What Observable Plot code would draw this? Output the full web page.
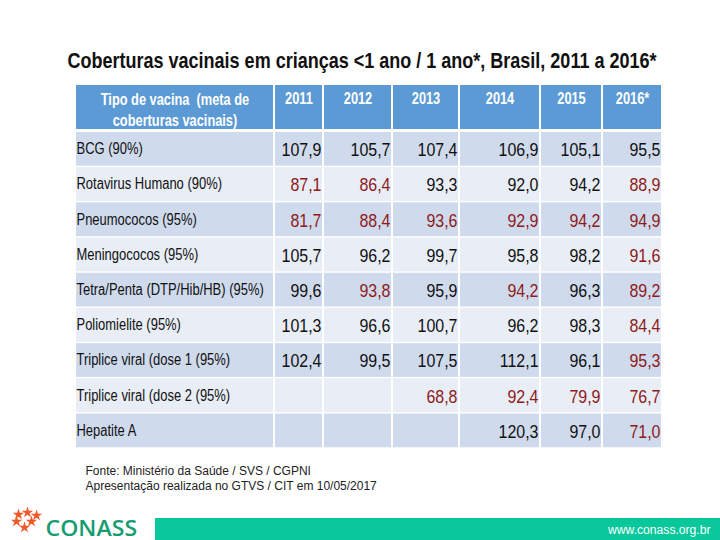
<!DOCTYPE html>
<html>
<head>
<meta charset="utf-8">
<script src="https://cdn.jsdelivr.net/npm/d3@7"></script>
<script src="https://cdn.jsdelivr.net/npm/@observablehq/plot@0.6"></script>
<style>
  html, body { margin: 0; padding: 0; background: #fff; }
  #chart svg { display: block; }
</style>
</head>
<body>
<div id="chart"></div>
<script>
// ---------- data ----------
const title = "Coberturas vacinais em crianças <1 ano / 1 ano*, Brasil, 2011 a 2016*";
const headerLabel = "Tipo de vacina  (meta de\ncoberturas vacinais)";
const years = ["2011", "2012", "2013", "2014", "2015", "2016*"];
const vaccines = [
  "BCG (90%)",
  "Rotavirus Humano (90%)",
  "Pneumococos (95%)",
  "Meningococos (95%)",
  "Tetra/Penta (DTP/Hib/HB) (95%)",
  "Poliomielite (95%)",
  "Triplice viral (dose 1 (95%)",
  "Triplice viral (dose 2 (95%)",
  "Hepatite A"
];
const bcg          = [107.9, 105.7, 107.4, 106.9, 105.1, 95.5];
const rotavirus    = [87.1, 86.4, 93.3, 92.0, 94.2, 88.9];
const pneumococos  = [81.7, 88.4, 93.6, 92.9, 94.2, 94.9];
const meningococos = [105.7, 96.2, 99.7, 95.8, 98.2, 91.6];
const tetraPenta   = [99.6, 93.8, 95.9, 94.2, 96.3, 89.2];
const poliomielite = [101.3, 96.6, 100.7, 96.2, 98.3, 84.4];
const tripliceD1   = [102.4, 99.5, 107.5, 112.1, 96.1, 95.3];
const tripliceD2   = [null, null, 68.8, 92.4, 79.9, 76.7];
const hepatiteA    = [null, null, null, 120.3, 97.0, 71.0];
// cells highlighted in red in the source (below target)
const flagged = [
  "Rotavirus Humano (90%)|2011", "Rotavirus Humano (90%)|2012", "Rotavirus Humano (90%)|2016*",
  "Pneumococos (95%)|2011", "Pneumococos (95%)|2012", "Pneumococos (95%)|2013",
  "Pneumococos (95%)|2014", "Pneumococos (95%)|2015", "Pneumococos (95%)|2016*",
  "Meningococos (95%)|2016*",
  "Tetra/Penta (DTP/Hib/HB) (95%)|2012", "Tetra/Penta (DTP/Hib/HB) (95%)|2014", "Tetra/Penta (DTP/Hib/HB) (95%)|2016*",
  "Poliomielite (95%)|2016*",
  "Triplice viral (dose 1 (95%)|2016*",
  "Triplice viral (dose 2 (95%)|2013", "Triplice viral (dose 2 (95%)|2014",
  "Triplice viral (dose 2 (95%)|2015", "Triplice viral (dose 2 (95%)|2016*",
  "Hepatite A|2016*"
];
const footerLines = [
  "Fonte: Ministério da Saúde / SVS / CGPNI",
  "Apresentação realizada no GTVS / CIT em 10/05/2017"
];
const brandName = "CONASS";
const siteUrl = "www.conass.org.br";

// ---------- table build ----------
const series = [bcg, rotavirus, pneumococos, meningococos, tetraPenta, poliomielite, tripliceD1, tripliceD2, hepatiteA];
const rows = [];
vaccines.forEach((v, i) => {
  years.forEach((y, j) => {
    rows.push({vaccine: v, row: i, year: y, col: j + 1, value: series[i][j],
               flag: flagged.includes(v + "|" + y)});
  });
});

// ---------- layout ----------
const colEdges = [75, 274, 323, 392, 459, 540, 602, 662];
const headTop = 85, headBottom = 130, bodyTop = 131, rowH = 35.2;
const rowY1 = i => bodyTop + i * rowH;
const rowY2 = i => bodyTop + (i + 1) * rowH;
const rowMid = i => bodyTop + (i + 0.5) * rowH;

const bodyCells = [];
vaccines.forEach((v, i) => {
  for (let c = 0; c < colEdges.length - 1; c++) bodyCells.push({row: i, col: c});
});
const headCells = d3.range(colEdges.length - 1).map(c => ({col: c}));

const fmt = v => v == null ? "" : v.toFixed(1).replace(".", ",");
const sans = "'Liberation Sans', Arial, sans-serif";

const stars = [
  {x: 18, y: 514}, {x: 27, y: 512}, {x: 36, y: 515},
  {x: 16, y: 521}, {x: 31, y: 521},
  {x: 24, y: 527}
];

const chart = Plot.plot({
  width: 720,
  height: 540,
  margin: 0,
  x: {type: "linear", domain: [0, 720], range: [0, 720], axis: null},
  y: {type: "linear", domain: [0, 540], range: [0, 540], axis: null},
  color: {type: "identity"},
  style: {background: "#ffffff"},
  marks: [
    // 0 title
    Plot.text([title], {x: 361.5, y: 60, text: d => d, fontFamily: sans, fontWeight: "bold",
      fontSize: 22, fill: "#111"}),
    // header cells
    Plot.rect(headCells, {x1: d => colEdges[d.col], x2: d => colEdges[d.col + 1],
      y1: headTop, y2: headBottom - 1, fill: "#5b9ad4", insetLeft: 1, insetRight: 1}),
    // body cells
    Plot.rect(bodyCells, {x1: d => colEdges[d.col], x2: d => colEdges[d.col + 1],
      y1: d => rowY1(d.row), y2: d => rowY2(d.row),
      fill: d => d.row % 2 === 0 ? "#cfdaec" : "#e8edf6",
      insetLeft: 1, insetRight: 1, insetTop: 1, insetBottom: 0.5}),
    // 1 header label
    Plot.text([headerLabel], {x: (colEdges[0] + colEdges[1]) / 2, y: 108, text: d => d,
      fontFamily: sans, fontWeight: "bold", fontSize: 16, lineHeight: 1.3, fill: "#fff"}),
    // 2 years
    Plot.text(years, {x: (d, j) => (colEdges[j + 1] + colEdges[j + 2]) / 2, y: 98, text: d => d,
      fontFamily: sans, fontWeight: "bold", fontSize: 16, fill: "#fff"}),
    // 3 row labels
    Plot.text(vaccines, {x: colEdges[0] + 1, y: (d, i) => rowMid(i), text: d => d,
      textAnchor: "start", fontFamily: sans, fontSize: 16, fill: "#111"}),
    // 4 values
    Plot.text(rows.filter(d => d.value != null), {
      x: d => colEdges[d.col + 1] - 2, y: d => rowMid(d.row) + 1, text: d => fmt(d.value),
      textAnchor: "end", fontFamily: sans, fontSize: 19,
      fill: d => d.flag ? "#8e1a1a" : "#111"}),
    // 5 footer
    Plot.text(footerLines, {x: 85, y: (d, i) => 470 + i * 15, text: d => d, textAnchor: "start",
      fontFamily: sans, fontSize: 12.5, fill: "#222"}),
    // bottom band
    Plot.rect([0], {x1: 155, x2: 720, y1: 518, y2: 540, fill: "#08c79a"}),
    // 6 url
    Plot.text([siteUrl], {x: 710, y: 529, text: d => d, textAnchor: "end",
      fontFamily: sans, fontSize: 12.5, fill: "#fff"}),
    // logo
    Plot.dot(stars, {x: "x", y: "y", symbol: "star", r: 3.6, fill: "#f0592a"}),
    // 7 brand
    Plot.text([brandName], {x: 45, y: 529, text: d => d, textAnchor: "start",
      fontFamily: "'Open Sans', sans-serif", fontWeight: "600", fontSize: 21, fill: "#179c72"})
  ]
});
document.getElementById("chart").appendChild(chart);

// condense text horizontally (the source uses a narrow face)
const factors = [null, 0.8, 0.8, 0.81, 0.84, 0.96, 0.97, 1.1];
const groups = chart.querySelectorAll('g[aria-label="text"]');
groups.forEach((g, k) => {
  const f = factors[k];
  g.querySelectorAll("text").forEach(t => {
    const parts = t.querySelectorAll("tspan");
    const targets = parts.length ? Array.from(parts) : [t];
    targets.forEach(el => {
      const L = el.getComputedTextLength();
      const w = f == null ? 589 : L * f;
      el.setAttribute("textLength", w);
      el.setAttribute("lengthAdjust", "spacingAndGlyphs");
    });
  });
});
</script>
</body>
</html>
